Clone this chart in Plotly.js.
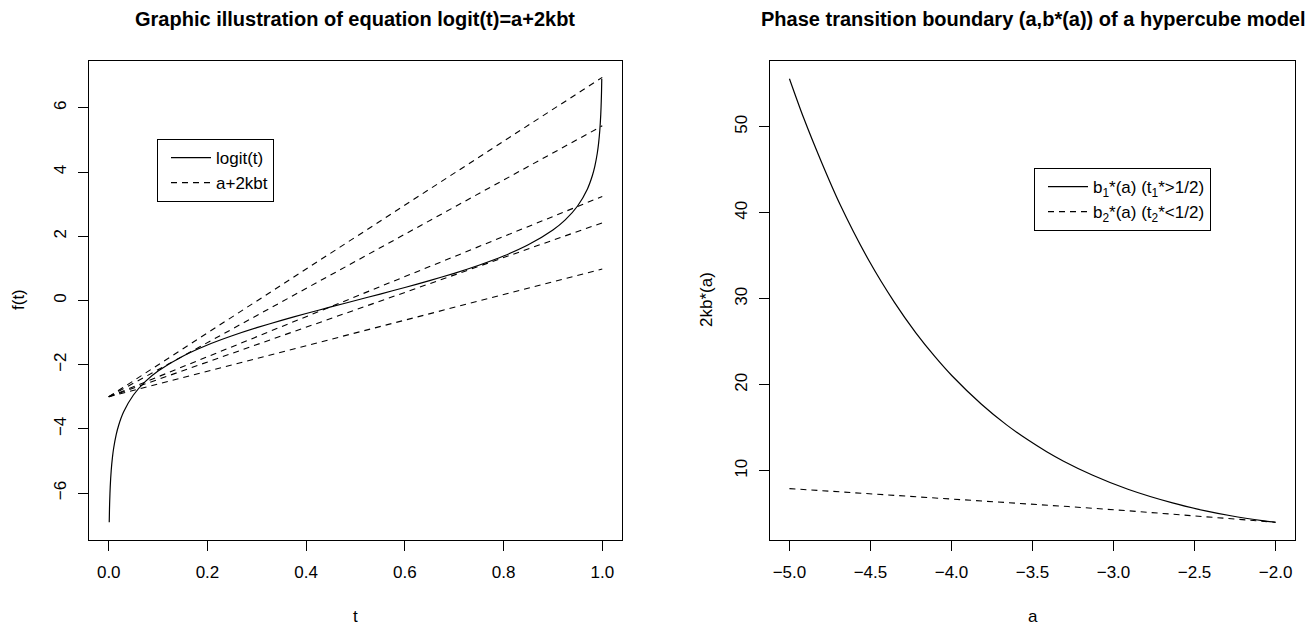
<!DOCTYPE html>
<html>
<head>
<meta charset="utf-8">
<script src="https://cdn.plot.ly/plotly-3.0.1.min.js"></script>
<style>html,body{margin:0;padding:0;background:#fff;}#chart{width:1311px;height:626px;}</style>
</head>
<body>
<div id="chart"></div>
<script>
// ---- Left panel: logit(t) curve ----
var tVals = [0.001, 0.0015, 0.002, 0.003, 0.005, 0.0075, 0.01, 0.015, 0.02, 0.03, 0.05, 0.075, 0.1, 0.15, 0.2, 0.25, 0.3, 0.35, 0.4, 0.45, 0.5, 0.55, 0.6, 0.65, 0.7, 0.75, 0.8, 0.85, 0.9, 0.925, 0.95, 0.97, 0.98, 0.985, 0.99, 0.9925, 0.995, 0.997, 0.998, 0.9985, 0.999];
var logitVals = [-6.907, -6.50, -6.213, -5.806, -5.293, -4.885, -4.595, -4.185, -3.892, -3.476, -2.944, -2.512, -2.197, -1.735, -1.386, -1.099, -0.847, -0.619, -0.405, -0.201, 0, 0.201, 0.405, 0.619, 0.847, 1.099, 1.386, 1.735, 2.197, 2.512, 2.944, 3.476, 3.892, 4.185, 4.595, 4.885, 5.293, 5.806, 6.213, 6.50, 6.907];
// dashed lines a+2kbt : start (t=0) and end (t=1) values
var lineT = [0, 1];
var lineStart = [-3, -3, -3, -3, -3];
var lineEnd = [6.95, 5.44, 3.24, 2.42, 0.98];

// ---- Right panel: phase transition boundary ----
var a1 = [-5.0, -4.912, -4.80, -4.689, -4.507, -4.353, -4.220, -4.102, -3.997, -3.815, -3.662, -3.529, -3.4125, -3.308, -3.128, -2.911, -2.636, -2.432, -2.276, -2.072, -2.0];
var b1 = [55.6, 51.02, 45.8, 41.03, 34.36, 29.61, 26.04, 23.27, 21.05, 17.73, 15.36, 13.59, 12.21, 11.11, 9.47, 7.84, 6.25, 5.33, 4.76, 4.17, 4.0];
var a2 = [-5.0, -4.592, -4.297, -4.039, -3.614, -3.280, -2.901, -2.486, -2.238, -2.095, -2.022, -2.0];
var b2 = [7.92, 7.44, 7.09, 6.78, 6.25, 5.83, 5.33, 4.76, 4.40, 4.17, 4.04, 4.0];

var leftTicks = [0, 0.2, 0.4, 0.6, 0.8, 1.0];
var leftYTicks = [-6, -4, -2, 0, 2, 4, 6];
var rightXTicks = [-5.0, -4.5, -4.0, -3.5, -3.0, -2.5, -2.0];
var rightYTicks = [10, 20, 30, 40, 50];

var FONT = 'Liberation Sans';
var W = 1311, H = 626;
function px(x){ return x / W; }
function py(y){ return 1 - y / H; }
var dashStyle = '6px,5px';
var FS = 17;

var traces = [];
traces.push({x: tVals, y: logitVals, type: 'scatter', mode: 'lines', xaxis: 'x', yaxis: 'y',
  line: {color: '#000', width: 1.2, shape: 'spline', smoothing: 0.6}, name: 'logit(t)', legend: 'legend', showlegend: true});
for (var i = 0; i < lineEnd.length; i++) {
  traces.push({x: lineT, y: [lineStart[i], lineEnd[i]], type: 'scatter', mode: 'lines', xaxis: 'x', yaxis: 'y',
    line: {color: '#000', width: 1.1, dash: dashStyle}, name: 'a+2kbt', legendgroup: 'lin',
    legend: 'legend', showlegend: i === 0});
}
traces.push({x: a1, y: b1, type: 'scatter', mode: 'lines', xaxis: 'x2', yaxis: 'y2',
  line: {color: '#000', width: 1.2, shape: 'spline', smoothing: 0.8}, name: 'b<sub>1</sub>*(a) (t<sub>1</sub>*>1/2)', legend: 'legend2', showlegend: true});
traces.push({x: a2, y: b2, type: 'scatter', mode: 'lines', xaxis: 'x2', yaxis: 'y2',
  line: {color: '#000', width: 1.1, dash: dashStyle}, name: 'b<sub>2</sub>*(a) (t<sub>2</sub>*<1/2)', legend: 'legend2', showlegend: true});

var yDom = [py(540), py(61)];
var axBase = {showgrid: false, zeroline: false, showline: true, linecolor: '#000', linewidth: 1,
  mirror: true, ticks: 'outside', ticklen: 10, tickcolor: '#000', tickwidth: 1,
  tickfont: {family: FONT, size: FS, color: '#000'}};

var legBase = {xanchor: 'left', yanchor: 'top', bgcolor: '#fff', bordercolor: '#000', borderwidth: 1,
  tracegroupgap: 0, indentation: 8, itemwidth: 40, font: {family: FONT, size: FS, color: '#000'}};

var layout = {
  width: W, height: H,
  margin: {l: 0, r: 0, t: 0, b: 0},
  paper_bgcolor: '#fff', plot_bgcolor: '#fff',
  font: {family: FONT, size: FS, color: '#000'},
  xaxis: Object.assign({}, axBase, {domain: [px(89), px(622)], range: [-0.04, 1.04],
    tickvals: leftTicks, tickformat: '.1f', anchor: 'y', ticklabelstandoff: 7}),
  yaxis: Object.assign({}, axBase, {domain: yDom, range: [-7.46, 7.46],
    tickvals: leftYTicks, tickangle: -90, anchor: 'x', ticklabelstandoff: 5}),
  xaxis2: Object.assign({}, axBase, {domain: [px(770), px(1295)], range: [-5.12, -1.88],
    tickvals: rightXTicks, tickformat: '.1f', anchor: 'y2', ticklabelstandoff: 7}),
  yaxis2: Object.assign({}, axBase, {domain: yDom, range: [1.94, 57.66],
    tickvals: rightYTicks, tickangle: -90, anchor: 'x2', ticklabelstandoff: 5}),
  legend: Object.assign({}, legBase, {x: px(157), y: py(139)}),
  legend2: Object.assign({}, legBase, {x: px(1034), y: py(168)}),
  annotations: [
    {text: '<b>Graphic illustration of equation logit(t)=a+2kbt</b>', xref: 'paper', yref: 'paper',
      x: px(355), y: py(19), xanchor: 'center', yanchor: 'middle', showarrow: false,
      font: {family: FONT, size: 20, color: '#000'}},
    {text: '<b>Phase transition boundary (a,b*(a)) of a hypercube model</b>', xref: 'paper', yref: 'paper',
      x: px(1033), y: py(19), xanchor: 'center', yanchor: 'middle', showarrow: false,
      font: {family: FONT, size: 20, color: '#000'}},
    {text: 't', xref: 'paper', yref: 'paper', x: px(355), y: py(616), xanchor: 'center', yanchor: 'middle',
      showarrow: false, font: {family: FONT, size: FS, color: '#000'}},
    {text: 'a', xref: 'paper', yref: 'paper', x: px(1033), y: py(616), xanchor: 'center', yanchor: 'middle',
      showarrow: false, font: {family: FONT, size: FS, color: '#000'}},
    {text: 'f(t)', xref: 'paper', yref: 'paper', x: px(18), y: py(300), xanchor: 'center', yanchor: 'middle',
      showarrow: false, textangle: -90, font: {family: FONT, size: FS, color: '#000'}},
    {text: '2kb*(a)', xref: 'paper', yref: 'paper', x: px(706), y: py(300), xanchor: 'center', yanchor: 'middle',
      showarrow: false, textangle: -90, font: {family: FONT, size: FS, color: '#000'}}
  ]
};

Plotly.newPlot('chart', traces, layout, {staticPlot: true, displayModeBar: false});
</script>
</body>
</html>
